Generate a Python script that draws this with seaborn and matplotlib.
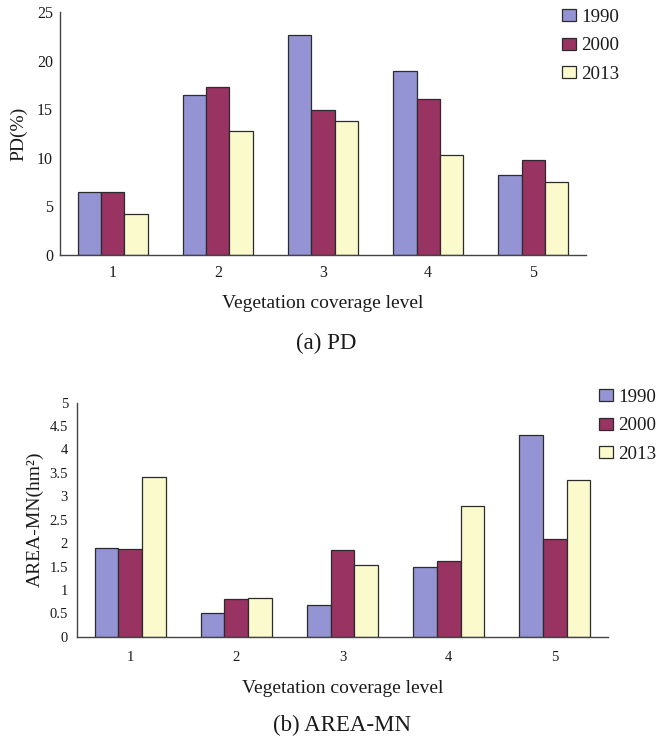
import matplotlib
matplotlib.use("Agg")
import matplotlib.pyplot as plt
import seaborn as sns
import pandas as pd

levels = ["1", "2", "3", "4", "5"]
years = ["1990", "2000", "2013"]
pd_1990 = [6.5, 16.5, 22.6, 18.9, 8.2]
pd_2000 = [6.5, 17.3, 14.9, 16.0, 9.8]
pd_2013 = [4.2, 12.8, 13.8, 10.3, 7.5]
am_1990 = [1.89, 0.50, 0.67, 1.48, 4.31]
am_2000 = [1.87, 0.80, 1.85, 1.62, 2.08]
am_2013 = [3.41, 0.83, 1.53, 2.80, 3.35]
colors = ["#9494D4", "#993362", "#FBFACD"]

sns.set_style("white")
plt.rcParams["font.family"] = ["Liberation Serif", "DejaVu Serif"]
plt.rcParams["text.color"] = "#1a1a1a"
plt.rcParams["axes.labelcolor"] = "#1a1a1a"
plt.rcParams["xtick.color"] = "#1a1a1a"
plt.rcParams["ytick.color"] = "#1a1a1a"


def long_df(series, name):
    rows = []
    for y, vals in zip(years, series):
        for lv, v in zip(levels, vals):
            rows.append({"level": lv, "year": y, name: v})
    return pd.DataFrame(rows)


df_pd = long_df([pd_1990, pd_2000, pd_2013], "PD")
df_am = long_df([am_1990, am_2000, am_2013], "AM")

fig = plt.figure(figsize=(6.56, 7.40), dpi=100)
W, H = 656, 740


def add_ax(l, r, t, b):
    return fig.add_axes([l / W, 1 - b / H, (r - l) / W, (b - t) / H])


ax1 = add_ax(60, 586, 12, 255)
ax2 = add_ax(77, 608, 402.7, 636.7)


def draw(ax, df, col, ymax, step, ylabel, tsize, ypad, xpad, ylpad, xlpad):
    sns.barplot(data=df, x="level", y=col, hue="year", order=levels,
                hue_order=years, palette=colors, width=0.667, gap=0,
                edgecolor="#2b2b2b", linewidth=0.9, saturation=1,
                errorbar=None, ax=ax)
    handles, labels = ax.get_legend_handles_labels()
    ax.get_legend().remove()
    ax.set_xlim(-0.5, 4.5)
    ax.set_ylim(0, ymax)
    yt = [i * step for i in range(int(round(ymax / step)) + 1)]
    ax.set_yticks(yt)
    ax.set_yticklabels([("%g" % v) for v in yt])
    ax.set_xticks([i + 0.5 for i in range(-1, 5)], minor=True)
    ax.tick_params(axis="x", which="major", length=0, labelsize=tsize, pad=xpad)
    ax.tick_params(axis="x", which="minor", direction="in", length=3.5,
                   width=0.9, color="#444444")
    ax.tick_params(axis="y", which="major", direction="in", length=3.5,
                   width=0.9, color="#444444", labelsize=tsize, pad=ypad)
    for s in ["top", "right"]:
        ax.spines[s].set_visible(False)
    for s in ["left", "bottom"]:
        ax.spines[s].set_color("#444444")
        ax.spines[s].set_linewidth(1.0)
    ax.set_ylabel(ylabel, fontsize=14, labelpad=ylpad)
    ax.set_xlabel("Vegetation coverage level", fontsize=14, labelpad=xlpad)
    return handles, labels


h1, l1 = draw(ax1, df_pd, "PD", 25, 5, "PD(%)", 11.5, 5, 7.5, 7, 9.5)
h2, l2 = draw(ax2, df_am, "AM", 5, 0.5, "AREA-MN(hm²)", 10.5, 6.5, 10, 4, 11.5)

legend_kw = dict(loc="upper left", frameon=False, fontsize=13.6,
                 handlelength=0.72, handleheight=0.6, handletextpad=0.3,
                 labelspacing=0.6, borderpad=0, borderaxespad=0)
fig.legend(h1, l1, bbox_to_anchor=(562 / W, 1 - 9 / H), **legend_kw)
fig.legend(h2, l2, bbox_to_anchor=(599 / W, 1 - 389 / H), **legend_kw)

fig.text(326.5 / W, 1 - 343 / H, "(a) PD", ha="center", va="center", fontsize=16.5)
fig.text(342 / W, 1 - 725 / H, "(b) AREA-MN", ha="center", va="center", fontsize=16.5)

fig.savefig("out.png", dpi=100)
